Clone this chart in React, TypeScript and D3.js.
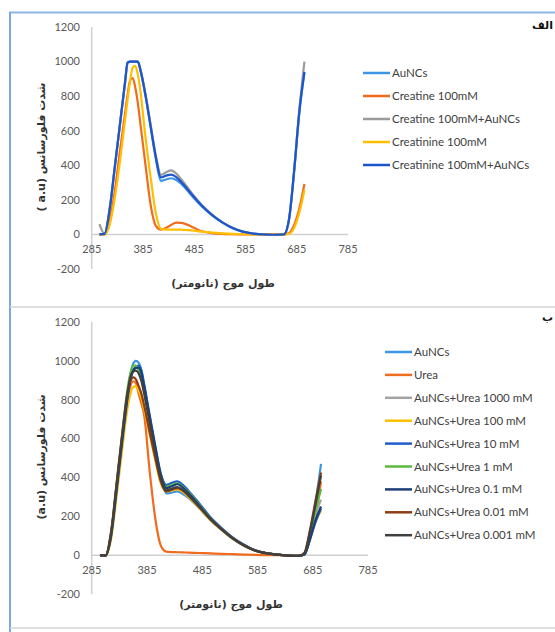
import React from "react";
import * as d3 from "d3";

const width = 555;
const height = 632;

// wavelength (nm)
const wavelengths = [300, 310, 320, 330, 340, 350, 355, 360, 365, 370, 375, 380, 390, 400, 410, 420, 430, 440, 450, 460, 480, 500, 520, 540, 560, 580, 600, 620, 640, 660, 670, 680, 690, 700];

const xTicks = [285, 385, 485, 585, 685, 785];
const yTicks = [-200, 0, 200, 400, 600, 800, 1000, 1200];

// panel A (creatine / creatinine)
const topNames = ["AuNCs", "Creatine 100mM", "Creatine 100mM+AuNCs", "Creatinine 100mM", "Creatinine 100mM+AuNCs"];
const topColors = ["#3d95e6", "#f06b1e", "#9b9b9b", "#ffbe00", "#1d55cc"];
const topAunc = [2, 2, 140, 385, 630, 875, 990, 1000, 1000, 1000, 998, 950, 800, 620, 440, 310, 318, 325, 315, 292, 225, 162, 110, 68, 36, 15, 5, 0, -2, 0, 85, 365, 700, 935];
const topCreatine = [0, 0, 80, 250, 480, 700, 810, 890, 905, 850, 760, 640, 400, 170, 50, 28, 38, 55, 68, 67, 45, 18, 8, 3, 1, 0, 0, 0, 0, 0, 8, 55, 150, 292];
const topCreatineAunc = [60, 5, 150, 390, 635, 880, 992, 1000, 1000, 1000, 1000, 955, 810, 635, 460, 345, 360, 370, 352, 318, 240, 170, 115, 70, 38, 16, 5, 0, -2, 0, 90, 375, 720, 1000];
const topCreatinine = [0, 0, 55, 210, 420, 660, 780, 890, 965, 975, 925, 830, 560, 330, 125, 32, 28, 28, 28, 27, 24, 16, 10, 6, 3, 1, 0, 0, 0, 0, 4, 38, 125, 257];
const topCreatinineAunc = [0, 3, 145, 390, 635, 880, 995, 1000, 1000, 1000, 1000, 952, 805, 625, 448, 330, 340, 346, 332, 302, 232, 166, 112, 70, 37, 16, 5, 0, -2, 0, 90, 370, 710, 940];

// panel B (urea)
const bottomNames = ["AuNCs", "Urea", "AuNCs+Urea 1000 mM", "AuNCs+Urea 100 mM", "AuNCs+Urea 10 mM", "AuNCs+Urea 1 mM", "AuNCs+Urea 0.1 mM", "AuNCs+Urea 0.01 mM", "AuNCs+Urea 0.001 mM"];
const bottomColors = ["#3d95e6", "#f06b1e", "#a3a3a3", "#ffbe00", "#1f5ccc", "#5cba3c", "#1c3f78", "#8e3c14", "#404040"];
const bAunc = [0, -2, 110, 360, 610, 840, 930, 985, 1000, 990, 950, 870, 700, 545, 400, 318, 322, 328, 315, 295, 240, 180, 130, 85, 50, 24, 10, 3, -2, -4, 8, 110, 270, 470];
const bUrea = [0, -2, 100, 340, 590, 810, 870, 895, 885, 830, 780, 720, 430, 190, 50, 18, 16, 15, 14, 13, 11, 9, 7, 5, 3, 1, 0, 0, -1, -2, 6, 80, 200, 380];
const bUrea1000 = [0, -2, 105, 350, 600, 830, 915, 955, 965, 960, 925, 850, 690, 540, 395, 330, 338, 345, 330, 305, 245, 183, 132, 86, 50, 24, 10, 3, -2, -4, 6, 95, 210, 285];
const bUrea100 = [0, -2, 80, 300, 540, 760, 830, 865, 870, 845, 810, 750, 620, 490, 370, 328, 333, 338, 325, 300, 242, 180, 130, 85, 50, 24, 10, 3, -2, -4, 5, 80, 170, 230];
const bUrea10 = [0, -2, 95, 330, 580, 810, 900, 950, 968, 975, 950, 880, 720, 565, 420, 362, 372, 380, 362, 332, 265, 195, 140, 92, 55, 26, 11, 3, -2, -4, 3, 80, 170, 240];
const bUrea1 = [0, -2, 110, 360, 620, 860, 935, 975, 975, 950, 905, 840, 690, 540, 410, 352, 362, 370, 352, 325, 258, 190, 136, 89, 52, 25, 10, 3, -2, -4, 6, 100, 230, 340];
const bUrea01 = [0, -2, 100, 340, 590, 820, 905, 950, 963, 965, 935, 865, 710, 555, 415, 345, 355, 365, 348, 320, 255, 188, 135, 88, 52, 25, 10, 3, -2, -4, 3, 85, 180, 250];
const bUrea001 = [0, -2, 120, 370, 620, 840, 895, 915, 905, 870, 830, 770, 630, 500, 380, 328, 337, 345, 332, 306, 247, 184, 133, 87, 51, 24, 10, 3, -2, -4, 12, 130, 280, 425];
const bUrea0001 = [0, -2, 110, 355, 605, 835, 915, 945, 950, 935, 895, 830, 680, 530, 395, 334, 342, 350, 335, 308, 248, 185, 133, 87, 51, 24, 10, 3, -2, -4, 10, 120, 260, 410];

const topValues = [topAunc, topCreatine, topCreatineAunc, topCreatinine, topCreatinineAunc];
const bottomValues = [bAunc, bUrea, bUrea1000, bUrea100, bUrea10, bUrea1, bUrea01, bUrea001, bUrea0001];

const tickFont = "Lato, 'Open Sans', sans-serif";
const arabicFont = "'DejaVu Sans', 'Noto Sans', sans-serif";

type PanelProps = {
  x0: number; x1: number; y0: number; y1: number;
  names: string[]; colors: string[]; values: number[][];
  legendX: number; legendY: number; legendStep: number; legendLen: number;
  yLabel: string; yLabelX: number; yLabelY: number;
  xLabelX: number; xLabelY: number;
  tickY: number;
};

function Panel(p: PanelProps) {
  const x = d3.scaleLinear().domain([285, 785]).range([p.x0, p.x1]);
  const y = d3.scaleLinear().domain([-200, 1200]).range([p.y0, p.y1]);
  const line = d3
    .line<number>()
    .x((_, i) => x(wavelengths[i]))
    .y((d) => y(d))
    .curve(d3.curveMonotoneX);

  return (
    <g>
      {/* axes */}
      <line x1={p.x0} x2={p.x0} y1={y(1200)} y2={y(-200)} stroke="#d0d0d0" strokeWidth={1.5} />
      <line x1={p.x0} x2={p.x1} y1={y(0)} y2={y(0)} stroke="#d0d0d0" strokeWidth={1.5} />
      {yTicks.map((t) => (
        <text key={t} x={80} y={y(t)} dy="0.35em" textAnchor="end" fontSize={11} fill="#595959" fontFamily={tickFont}>
          {t}
        </text>
      ))}
      {xTicks.map((t) => (
        <text key={t} x={x(t)} y={p.tickY} dy="0.35em" textAnchor="middle" fontSize={11} fill="#595959" fontFamily={tickFont}>
          {t}
        </text>
      ))}

      {p.values.map((vals, i) => (
        <path key={i} d={line(vals) || ""} fill="none" stroke={p.colors[i]} strokeWidth={2.2} strokeLinejoin="round" />
      ))}

      {/* legend */}
      {p.names.map((n, i) => (
        <g key={n} transform={`translate(${p.legendX},${p.legendY + i * p.legendStep})`}>
          <line x1={0} x2={p.legendLen} y1={0} y2={0} stroke={p.colors[i]} strokeWidth={2.5} />
          <text x={p.legendLen + 2} y={0} dy="0.35em" fontSize={11.5} fill="#404040" fontFamily={tickFont}>
            {n}
          </text>
        </g>
      ))}

      {/* axis titles */}
      <text
        transform={`translate(${p.yLabelX},${p.yLabelY}) rotate(-90)`}
        textAnchor="middle"
        dy="0.35em"
        direction="rtl"
        fontSize={11}
        fontWeight="bold"
        fill="#333"
        fontFamily={arabicFont}
      >
        {p.yLabel}
      </text>
      <text x={p.xLabelX} y={p.xLabelY} dy="0.35em" textAnchor="middle" direction="rtl" fontSize={11} fontWeight="bold" fill="#333" fontFamily={arabicFont}>
        طول موج (نانومتر)
      </text>
    </g>
  );
}

export default function App() {
  return (
    <svg width={width} height={height} style={{ position: "absolute", left: 0, top: 0, background: "#fff" }}>
      {/* panel frames */}
      <line x1={9} x2={555} y1={12.5} y2={12.5} stroke="#8db4e2" strokeWidth={2} />
      <line x1={10} x2={10} y1={12} y2={632} stroke="#7aa7e0" strokeWidth={2} />
      <line x1={10} x2={555} y1={307} y2={307} stroke="#d4d4d4" strokeWidth={1.5} />
      <line x1={10} x2={555} y1={628} y2={628} stroke="#d4d4d4" strokeWidth={1.5} />

      <Panel
        x0={91.7} x1={348} y0={269} y1={27}
        names={topNames} colors={topColors} values={topValues}
        legendX={363} legendY={73} legendStep={23} legendLen={27}
        yLabel="شدت فلورسانس (a.u )" yLabelX={41} yLabelY={147}
        xLabelX={223} xLabelY={283} tickY={249.5}
      />
      <Panel
        x0={91.7} x1={368} y0={594} y1={322}
        names={bottomNames} colors={bottomColors} values={bottomValues}
        legendX={385} legendY={352} legendStep={22.9} legendLen={27}
        yLabel="شدت فلورسانس (a.u)" yLabelX={41} yLabelY={457}
        xLabelX={231} xLabelY={604} tickY={570}
      />

      <text x={553} y={25} dy="0.35em" textAnchor="start" direction="rtl" fontSize={11} fontWeight="bold" fill="#111" fontFamily={arabicFont}>
        الف
      </text>
      <text x={553} y={317} dy="0.35em" textAnchor="start" direction="rtl" fontSize={11} fontWeight="bold" fill="#111" fontFamily={arabicFont}>
        ب
      </text>
    </svg>
  );
}
